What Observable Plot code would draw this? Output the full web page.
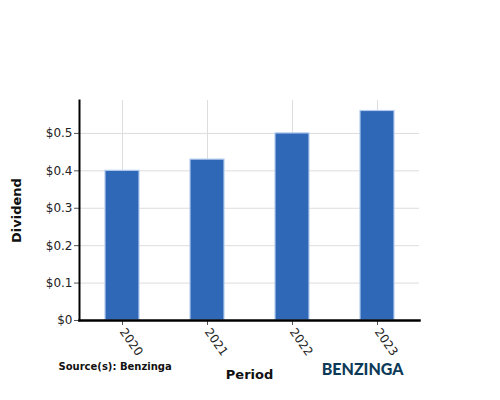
<!DOCTYPE html>
<html>
<head>
<meta charset="utf-8">
<script src="https://cdn.jsdelivr.net/npm/d3@7"></script>
<script src="https://cdn.jsdelivr.net/npm/@observablehq/plot@0.6"></script>
<style>
  html, body { margin: 0; padding: 0; background: #fff; }
  #chart { width: 500px; height: 400px; }
</style>
</head>
<body>
<div id="chart"></div>
<script>
const periods = ["2020", "2021", "2022", "2023"];
const dividends = [0.40, 0.43, 0.50, 0.56];
const yTicks = [0, 0.1, 0.2, 0.3, 0.4, 0.5];

const data = periods.map((p, i) => ({period: p, dividend: dividends[i]}));
const fmt = v => v === 0 ? "$0" : "$" + d3.format(".1f")(v);

const chart = Plot.plot({
  width: 500,
  height: 400,
  marginLeft: 79,
  marginRight: 81,
  marginTop: 100,
  marginBottom: 80,
  style: {fontFamily: "DejaVu Sans, sans-serif", fontSize: "12px", color: "#222", background: "#fff"},
  x: {domain: periods, paddingInner: 0.6, paddingOuter: 0.3, label: null, axis: null},
  y: {domain: [0, 0.588], label: null, axis: null},
  marks: [
    Plot.gridY(yTicks, {stroke: "#ddd", strokeOpacity: 1, strokeWidth: 1}),
    Plot.gridX(periods, {stroke: "#ddd", strokeOpacity: 1, strokeWidth: 1}),
    Plot.barY(data, {x: "period", y: "dividend", fill: "#3068b8", stroke: "#b3cbee", strokeWidth: 1.2}),
    Plot.axisY(yTicks, {tickFormat: fmt, tickSize: 5, tickPadding: 2, stroke: "#555", fontSize: 12, label: null}),
    Plot.axisX(periods, {tickSize: 5, tickPadding: 4, stroke: "#555", tickRotate: 55, fontSize: 12, label: null, textAnchor: "start"}),
    Plot.frame({anchor: "left", stroke: "#000", strokeWidth: 2}),
    Plot.frame({anchor: "bottom", stroke: "#000", strokeWidth: 2.5}),
    Plot.text(["Dividend"], {frameAnchor: "left", dx: -63, rotate: -90, textAnchor: "middle", fontWeight: "bold", fontSize: 13, fill: "#111"}),
    Plot.text(["Period"], {frameAnchor: "bottom", dy: 58, fontWeight: "bold", fontSize: 13, fill: "#111"}),
    Plot.text(["Source(s): Benzinga"], {frameAnchor: "bottom-left", dx: -21, dy: 49, textAnchor: "start", fontWeight: "bold", fontSize: 10, fill: "#111"}),
    Plot.text(["BENZINGA"], {frameAnchor: "bottom-right", dx: -16, dy: 54, textAnchor: "end", fontWeight: 900, fontSize: 16, fill: "#0d3a58", fontFamily: "Lato, 'Open Sans', sans-serif"})
  ]
});
document.getElementById("chart").appendChild(chart);
</script>
</body>
</html>
